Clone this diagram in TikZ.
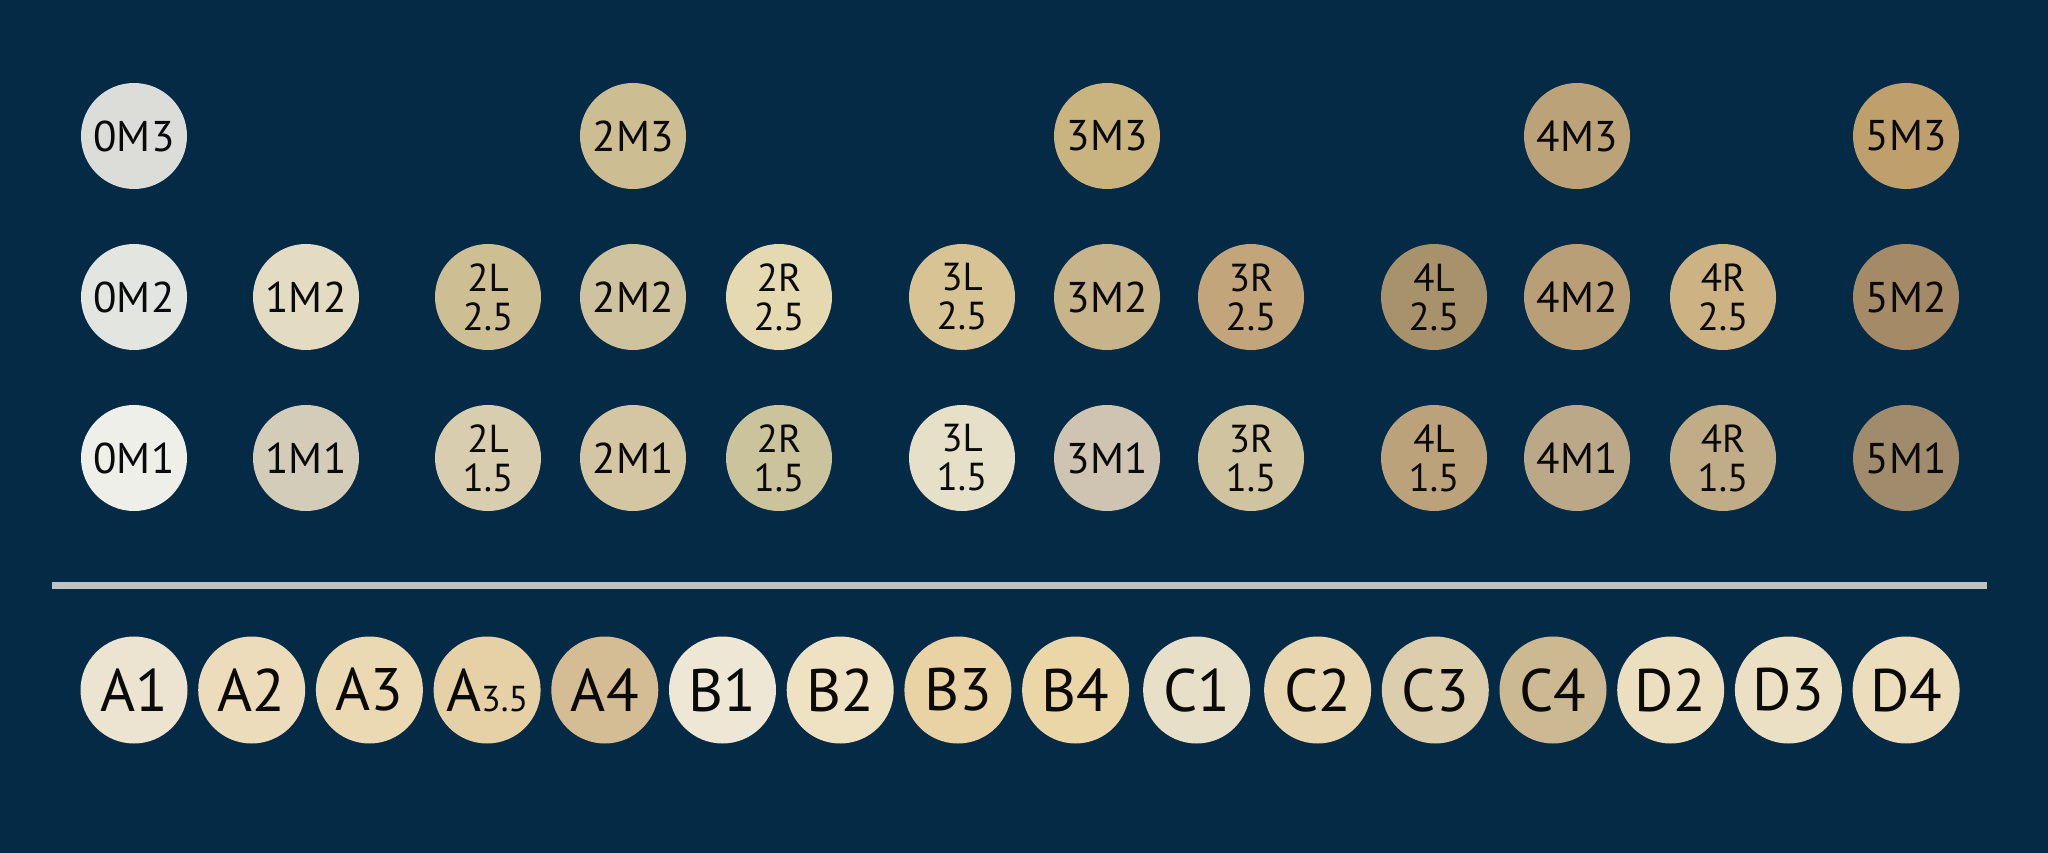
\documentclass[tikz,border=0pt]{standalone}
\usepackage{fontspec}
\setmainfont{PT Sans}
\usetikzlibrary{positioning}

\definecolor{navy}{HTML}{052A45}
\definecolor{rulegray}{HTML}{C0C2BD}
\definecolor{ink}{HTML}{0A0A0A}
% 3D-Master shades
\definecolor{c0M3}{HTML}{DCDDD8}
\definecolor{c0M2}{HTML}{E3E6E0}
\definecolor{c0M1}{HTML}{EEEFE9}
\definecolor{c1M2}{HTML}{E4DCC2}
\definecolor{c1M1}{HTML}{D3CCB8}
\definecolor{c2M3}{HTML}{CDBD92}
\definecolor{c2L25}{HTML}{CDBF93}
\definecolor{c2M2}{HTML}{CFC29E}
\definecolor{c2R25}{HTML}{E5D9B2}
\definecolor{c2L15}{HTML}{D8CDAE}
\definecolor{c2M1}{HTML}{D4C6A2}
\definecolor{c2R15}{HTML}{CBC39C}
\definecolor{c3M3}{HTML}{C9B47F}
\definecolor{c3L25}{HTML}{D7C394}
\definecolor{c3M2}{HTML}{C8B48A}
\definecolor{c3R25}{HTML}{C2A57A}
\definecolor{c3L15}{HTML}{E6E0C8}
\definecolor{c3M1}{HTML}{CFC4B2}
\definecolor{c3R15}{HTML}{D0C4A0}
\definecolor{c4M3}{HTML}{BCA278}
\definecolor{c4L25}{HTML}{A8926C}
\definecolor{c4M2}{HTML}{B99F77}
\definecolor{c4R25}{HTML}{CDB384}
\definecolor{c4L15}{HTML}{BBA27A}
\definecolor{c4M1}{HTML}{BBA888}
\definecolor{c4R15}{HTML}{C1AC88}
\definecolor{c5M3}{HTML}{BF9F6C}
\definecolor{c5M2}{HTML}{A48A66}
\definecolor{c5M1}{HTML}{A08C6C}
% classical shades
\definecolor{cA1}{HTML}{ECE4D0}
\definecolor{cA2}{HTML}{ECDCBB}
\definecolor{cA3}{HTML}{EBD9B4}
\definecolor{cA35}{HTML}{E6D0A5}
\definecolor{cA4}{HTML}{D4BD94}
\definecolor{cB1}{HTML}{EEE7D5}
\definecolor{cB2}{HTML}{EFE2C2}
\definecolor{cB3}{HTML}{E9D2A4}
\definecolor{cB4}{HTML}{EBD6A8}
\definecolor{cC1}{HTML}{E8DFC8}
\definecolor{cC2}{HTML}{E7D6B0}
\definecolor{cC3}{HTML}{DCCDAC}
\definecolor{cC4}{HTML}{CCB891}
\definecolor{cD2}{HTML}{ECDFC0}
\definecolor{cD3}{HTML}{ECE0C4}
\definecolor{cD4}{HTML}{ECDEBC}

\begin{document}
\begin{tikzpicture}[x=1pt,y=-1pt,node distance=161pt,
    tooth/.style={circle,minimum size=106pt,inner sep=0pt,text=ink,align=center,
      font=\fontsize{43}{43}\selectfont},
    twoline/.style={tooth,font=\fontsize{39}{39}\selectfont},
    vita/.style={tooth,minimum size=107pt,font=\fontsize{60}{60}\selectfont},
    rule/.style={line width=7pt,draw=rulegray}]
    \useasboundingbox (0,0) rectangle (2048,853);
    \fill[navy] (0,0) rectangle (2048,853);

    \node[tooth,fill=c0M2] (s0M2) at (134,297) {0M2};
    \node[tooth,fill=c0M3] (s0M3) [above of=s0M2] {0M3};
    \node[tooth,fill=c0M1] (s0M1) [below of=s0M2] {0M1};

    \node[tooth,fill=c1M2] (s1M2) at (306,297) {1M2};
    \node[tooth,fill=c1M1] (s1M1) [below of=s1M2] {1M1};

    \node[twoline,fill=c2L25] (s2L25) at (488,297) {2L\\2.5};
    \node[tooth,fill=c2M2] (s2M2) at (633,297) {2M2};
    \node[twoline,fill=c2R25] (s2R25) at (779,297) {2R\\2.5};
    \node[tooth,fill=c2M3] (s2M3) [above of=s2M2] {2M3};
    \node[twoline,fill=c2L15] (s2L15) [below of=s2L25] {2L\\1.5};
    \node[tooth,fill=c2M1] (s2M1) [below of=s2M2] {2M1};
    \node[twoline,fill=c2R15] (s2R15) [below of=s2R25] {2R\\1.5};

    \node[twoline,fill=c3L25] (s3L25) at (962,297) {3L\\2.5};
    \node[tooth,fill=c3M2] (s3M2) at (1107,297) {3M2};
    \node[twoline,fill=c3R25] (s3R25) at (1251,297) {3R\\2.5};
    \node[tooth,fill=c3M3] (s3M3) [above of=s3M2] {3M3};
    \node[twoline,fill=c3L15] (s3L15) [below of=s3L25] {3L\\1.5};
    \node[tooth,fill=c3M1] (s3M1) [below of=s3M2] {3M1};
    \node[twoline,fill=c3R15] (s3R15) [below of=s3R25] {3R\\1.5};

    \node[twoline,fill=c4L25] (s4L25) at (1434,297) {4L\\2.5};
    \node[tooth,fill=c4M2] (s4M2) at (1577,297) {4M2};
    \node[twoline,fill=c4R25] (s4R25) at (1723,297) {4R\\2.5};
    \node[tooth,fill=c4M3] (s4M3) [above of=s4M2] {4M3};
    \node[twoline,fill=c4L15] (s4L15) [below of=s4L25] {4L\\1.5};
    \node[tooth,fill=c4M1] (s4M1) [below of=s4M2] {4M1};
    \node[twoline,fill=c4R15] (s4R15) [below of=s4R25] {4R\\1.5};

    \node[tooth,fill=c5M2] (s5M2) at (1906,297) {5M2};
    \node[tooth,fill=c5M3] (s5M3) [above of=s5M2] {5M3};
    \node[tooth,fill=c5M1] (s5M1) [below of=s5M2] {5M1};

    % separator
    \coordinate (ruleL) at (52,585);
    \coordinate (ruleR) at (1987,585);
    \draw[rule] (ruleL) -- (ruleR);

    \begin{scope}[node distance=117.7pt]
    \node[vita,fill=cA1] (A1) at (134,690) {A1};
    \node[vita,fill=cA2] (A2) [right of=A1] {A2};
    \node[vita,fill=cA3] (A3) [right of=A2] {A3};
    \node[vita,fill=cA35] (A35) [right of=A3] {A{\fontsize{36}{36}\selectfont 3.5}};
    \node[vita,fill=cA4] (A4) [right of=A35] {A4};
    \node[vita,fill=cB1] (B1) [right of=A4] {B1};
    \node[vita,fill=cB2] (B2) [right of=B1] {B2};
    \node[vita,fill=cB3] (B3) [right of=B2] {B3};
    \node[vita,fill=cB4] (B4) [right of=B3] {B4};
    \node[vita,fill=cC1] (C1) [right of=B4,node distance=121pt] {C1};
    \node[vita,fill=cC2] (C2) [right of=C1,node distance=121pt] {C2};
    \node[vita,fill=cC3] (C3) [right of=C2] {C3};
    \node[vita,fill=cC4] (C4) [right of=C3] {C4};
    \node[vita,fill=cD2] (D2) [right of=C4] {D2};
    \node[vita,fill=cD3] (D3) [right of=D2] {D3};
    \node[vita,fill=cD4] (D4) [right of=D3] {D4};
    \end{scope}
\end{tikzpicture}
\end{document}
